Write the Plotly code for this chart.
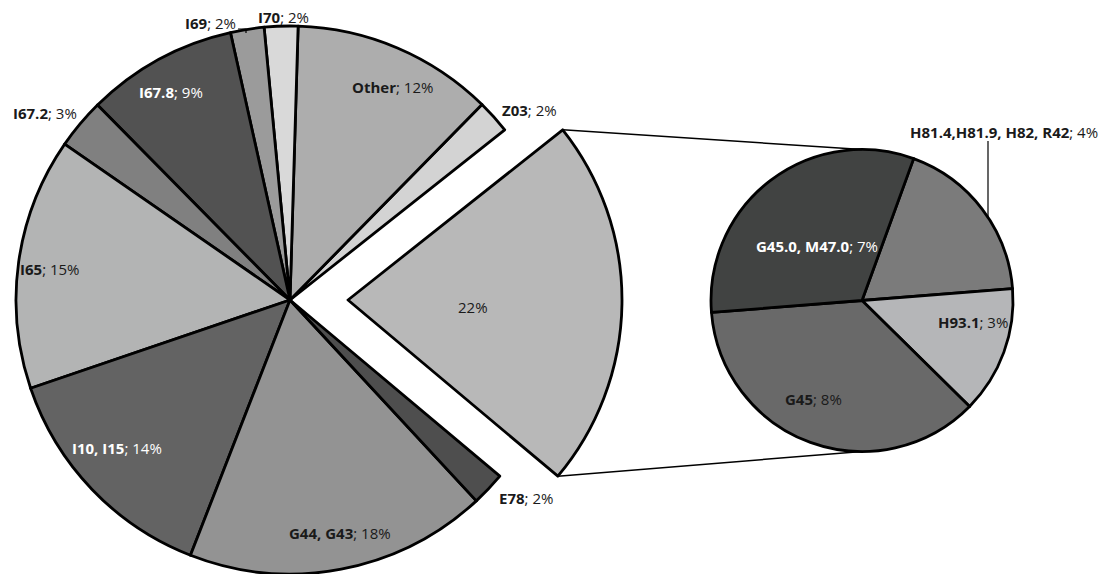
import math
import plotly.graph_objects as go

W, H = 1108, 574

# Main pie: the first entry is the group that is broken out into the secondary pie
main_labels = ["", "Z03", "Other", "I70", "I69", "I67.8", "I67.2", "I65",
               "I10, I15", "G44, G43", "E78"]
main_values = [22, 2, 12, 2, 2, 9, 3, 15, 14, 18, 2]
main_colors = ["#b8b8b8", "#d3d3d3", "#adadad", "#d9d9d9", "#9b9b9b", "#525252",
               "#808080", "#b3b4b4", "#636363", "#939393", "#4e4e4e"]

# Secondary pie: breakdown of the 22% group
sub_labels = ["H81.4,H81.9, H82, R42", "H93.1", "G45", "G45.0, M47.0"]
sub_values = [4, 3, 8, 7]
sub_colors = ["#7b7b7b", "#b5b6b8", "#696969", "#414342"]

# label anchors (pixel centres) and label text colours
main_label_pos = [(473, 307), (529, 110), (392, 87), (283, 17), (211, 23), (171, 92),
                  (45, 113), (50, 269), (117, 448), (340, 533), (526, 498)]
sub_label_pos = [(1004, 132), (973, 322), (813, 399), (817, 246)]
white_labels = {"I67.8", "I10, I15", "G45.0, M47.0"}

# geometry in pixels
MAIN_CX, MAIN_CY, MAIN_R = 290, 300, 274
PULL_PX = 58
MAIN_ROT = 51.6
SUB_CX, SUB_CY, SUB_R = 862, 300.5, 151
SUB_ROT = 20
BORDER = 2.8
CLEAR = "rgba(0,0,0,0)"
FONT = "Open Sans"
FONT_SIZE = 15


def fx(x):
    return x / W


def fy(y):
    return 1 - y / H


def clamp(v):
    return min(1.0, max(0.0, v))


def domain(cx, cy, r):
    return dict(x=[clamp((cx - r) / W), clamp((cx + r) / W)],
                y=[clamp(1 - (cy + r) / H), clamp(1 - (cy - r) / H)])


def on_circle(cx, cy, r, ang_deg):
    a = math.radians(ang_deg)
    return cx + r * math.sin(a), cy - r * math.cos(a)


fig = go.Figure()

# main pie with the broken-out group left empty
fig.add_trace(go.Pie(
    values=main_values,
    labels=[lab if lab else "group" for lab in main_labels],
    sort=False, direction="counterclockwise", rotation=MAIN_ROT,
    marker=dict(colors=[CLEAR] + main_colors[1:],
                line=dict(color="black", width=[0] + [BORDER] * (len(main_values) - 1))),
    textinfo="none", hoverinfo="label+value", showlegend=False,
    domain=domain(MAIN_CX, MAIN_CY, MAIN_R),
))

# the broken-out slice, drawn shifted to the right
rest = sum(main_values[1:])
fig.add_trace(go.Pie(
    values=[main_values[0], rest],
    labels=["group", "rest"],
    sort=False, direction="counterclockwise", rotation=MAIN_ROT,
    marker=dict(colors=[main_colors[0], CLEAR],
                line=dict(color="black", width=[BORDER, 0])),
    textinfo="none", hoverinfo="skip", showlegend=False,
    domain=domain(MAIN_CX + PULL_PX, MAIN_CY, MAIN_R),
))

# secondary pie
fig.add_trace(go.Pie(
    values=sub_values, labels=sub_labels,
    sort=False, direction="clockwise", rotation=SUB_ROT,
    marker=dict(colors=sub_colors, line=dict(color="black", width=BORDER)),
    textinfo="none", hoverinfo="label+value", showlegend=False,
    domain=domain(SUB_CX, SUB_CY, SUB_R),
))

# connector lines from the broken-out slice to the secondary pie
share = main_values[0] / sum(main_values) * 360
top_corner = on_circle(MAIN_CX + PULL_PX, MAIN_CY, MAIN_R, MAIN_ROT)
bot_corner = on_circle(MAIN_CX + PULL_PX, MAIN_CY, MAIN_R, MAIN_ROT + share)
shapes = [
    dict(type="line", xref="paper", yref="paper",
         x0=fx(top_corner[0]), y0=fy(top_corner[1]),
         x1=fx(SUB_CX), y1=fy(SUB_CY - SUB_R),
         line=dict(color="black", width=1.5)),
    dict(type="line", xref="paper", yref="paper",
         x0=fx(bot_corner[0]), y0=fy(bot_corner[1]),
         x1=fx(SUB_CX), y1=fy(SUB_CY + SUB_R),
         line=dict(color="black", width=1.5)),
]

# leader for the I69 label
shapes.append(dict(type="path", xref="paper", yref="paper",
                   path=f"M {fx(238)},{fy(29)} L {fx(246)},{fy(29)} L {fx(246)},{fy(33)}",
                   line=dict(color="black", width=1.2)))
# leader for the H81 label, running down to the pie edge
lx = 988
edge_y = SUB_CY - math.sqrt(SUB_R ** 2 - (lx - SUB_CX) ** 2)
shapes.append(dict(type="line", xref="paper", yref="paper",
                   x0=fx(lx), y0=fy(141), x1=fx(lx), y1=fy(edge_y),
                   line=dict(color="black", width=1.2)))


def label_text(name, value):
    if not name:
        return f"{value}%"
    return f"<b>{name}</b>; {value}%"


annotations = []
for name, val, (x, y) in list(zip(main_labels, main_values, main_label_pos)) + \
        list(zip(sub_labels, sub_values, sub_label_pos)):
    color = "white" if name in white_labels else "#1a1a1a"
    annotations.append(dict(
        text=label_text(name, val), x=fx(x), y=fy(y), xref="paper", yref="paper",
        xanchor="center", yanchor="middle", showarrow=False,
        font=dict(family=FONT, size=FONT_SIZE, color=color),
    ))

fig.update_layout(
    width=W, height=H,
    margin=dict(l=0, r=0, t=0, b=0),
    paper_bgcolor="white", plot_bgcolor="white",
    shapes=shapes, annotations=annotations,
)

fig.write_html("out.html")
